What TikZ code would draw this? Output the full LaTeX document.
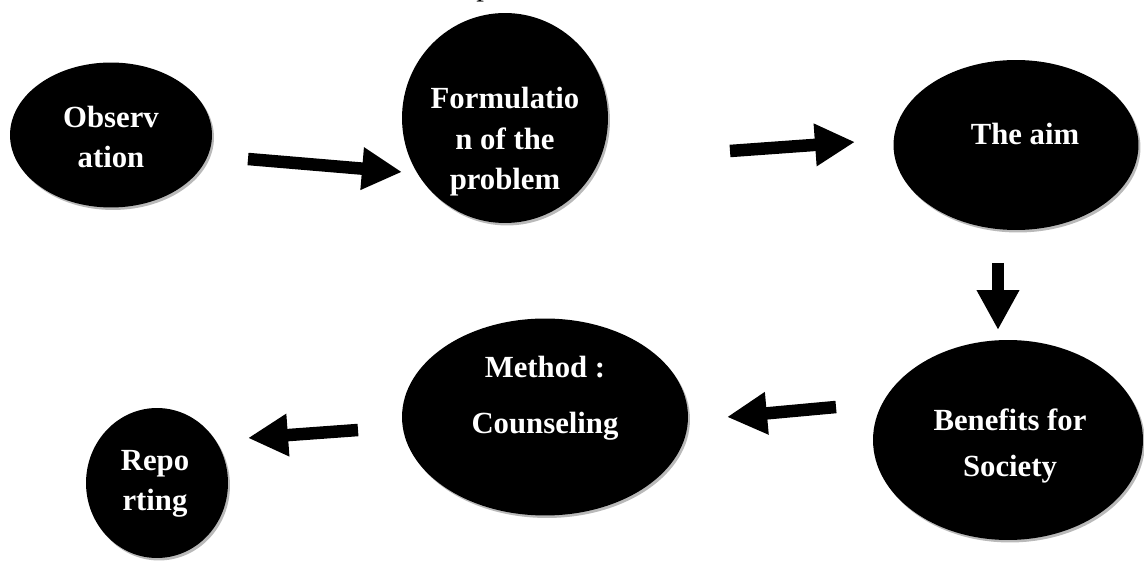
\documentclass[tikz,border=0pt]{standalone}
\usepackage{fontspec}
\setmainfont{Liberation Serif}
\usetikzlibrary{shapes.geometric}
\usetikzlibrary{arrows.meta}
\usetikzlibrary{shadows}
\tikzstyle{stage} = [ellipse, fill=black, draw=none, inner sep=0pt, drop shadow={shadow xshift=0.04cm, shadow yshift=-0.05cm, fill=gray!55, opacity=1}]
\tikzstyle{stagetext} = [text=white, align=center, font=\bfseries\fontsize{17.5}{23}\selectfont, inner sep=0pt]
\tikzstyle{arrow} = [line width=0.25cm, -{Triangle[length=0.8cm, width=0.8cm]}]

\begin{document}
\begin{tikzpicture}[x=0.02cm, y=-0.02cm]
\useasboundingbox (0,0) rectangle (1144,567);

\node (cut) [anchor=base west, inner sep=0pt, font=\fontsize{17.5}{23}\selectfont] at (476,-4) {p};

\node (obs) [stage, minimum width=4.04cm, minimum height=2.9cm] at (111,135) {};
\node (form) [stage, minimum width=4.12cm, minimum height=4.2cm] at (505,118) {};
\node (aim) [stage, minimum width=4.9cm, minimum height=3.4cm] at (1016,145) {};
\node (ben) [stage, minimum width=5.4cm, minimum height=4.0cm] at (1008,440) {};
\node (meth) [stage, minimum width=5.72cm, minimum height=3.94cm] at (545,417) {};
\node (rep) [stage, minimum width=2.84cm, minimum height=3.0cm] at (157,483) {};

\node (obstxt) [stagetext] at (111,137) {Observ\\ation};
\node (formtxt) [stagetext] at (505,142) {Formulatio\\n of the\\problem};
\node (aimtxt) [stagetext] at (1025,134) {The aim};
\node (bentxt) [stagetext, font=\bfseries\fontsize{17.5}{26}\selectfont] at (1010,446) {Benefits for\\Society};
\node (methtxt) [stagetext, font=\bfseries\fontsize{17.5}{32}\selectfont] at (545,398) {Method :\\Counseling};
\node (reptxt) [stagetext] at (155,484) {Repo\\rting};

\coordinate (a1s) at (248,159);
\coordinate (a1e) at (402,172);
\coordinate (a2s) at (730,151);
\coordinate (a2e) at (855,142);
\coordinate (a3s) at (998,263);
\coordinate (a3e) at (998,330);
\coordinate (a4s) at (836,407);
\coordinate (a4e) at (727,417);
\coordinate (a5s) at (358,430);
\coordinate (a5e) at (248,438);

\draw [arrow] (a1s) -- (a1e);
\draw [arrow] (a2s) -- (a2e);
\draw [arrow] (a3s) -- (a3e);
\draw [arrow] (a4s) -- (a4e);
\draw [arrow] (a5s) -- (a5e);

\end{tikzpicture}
\end{document}
